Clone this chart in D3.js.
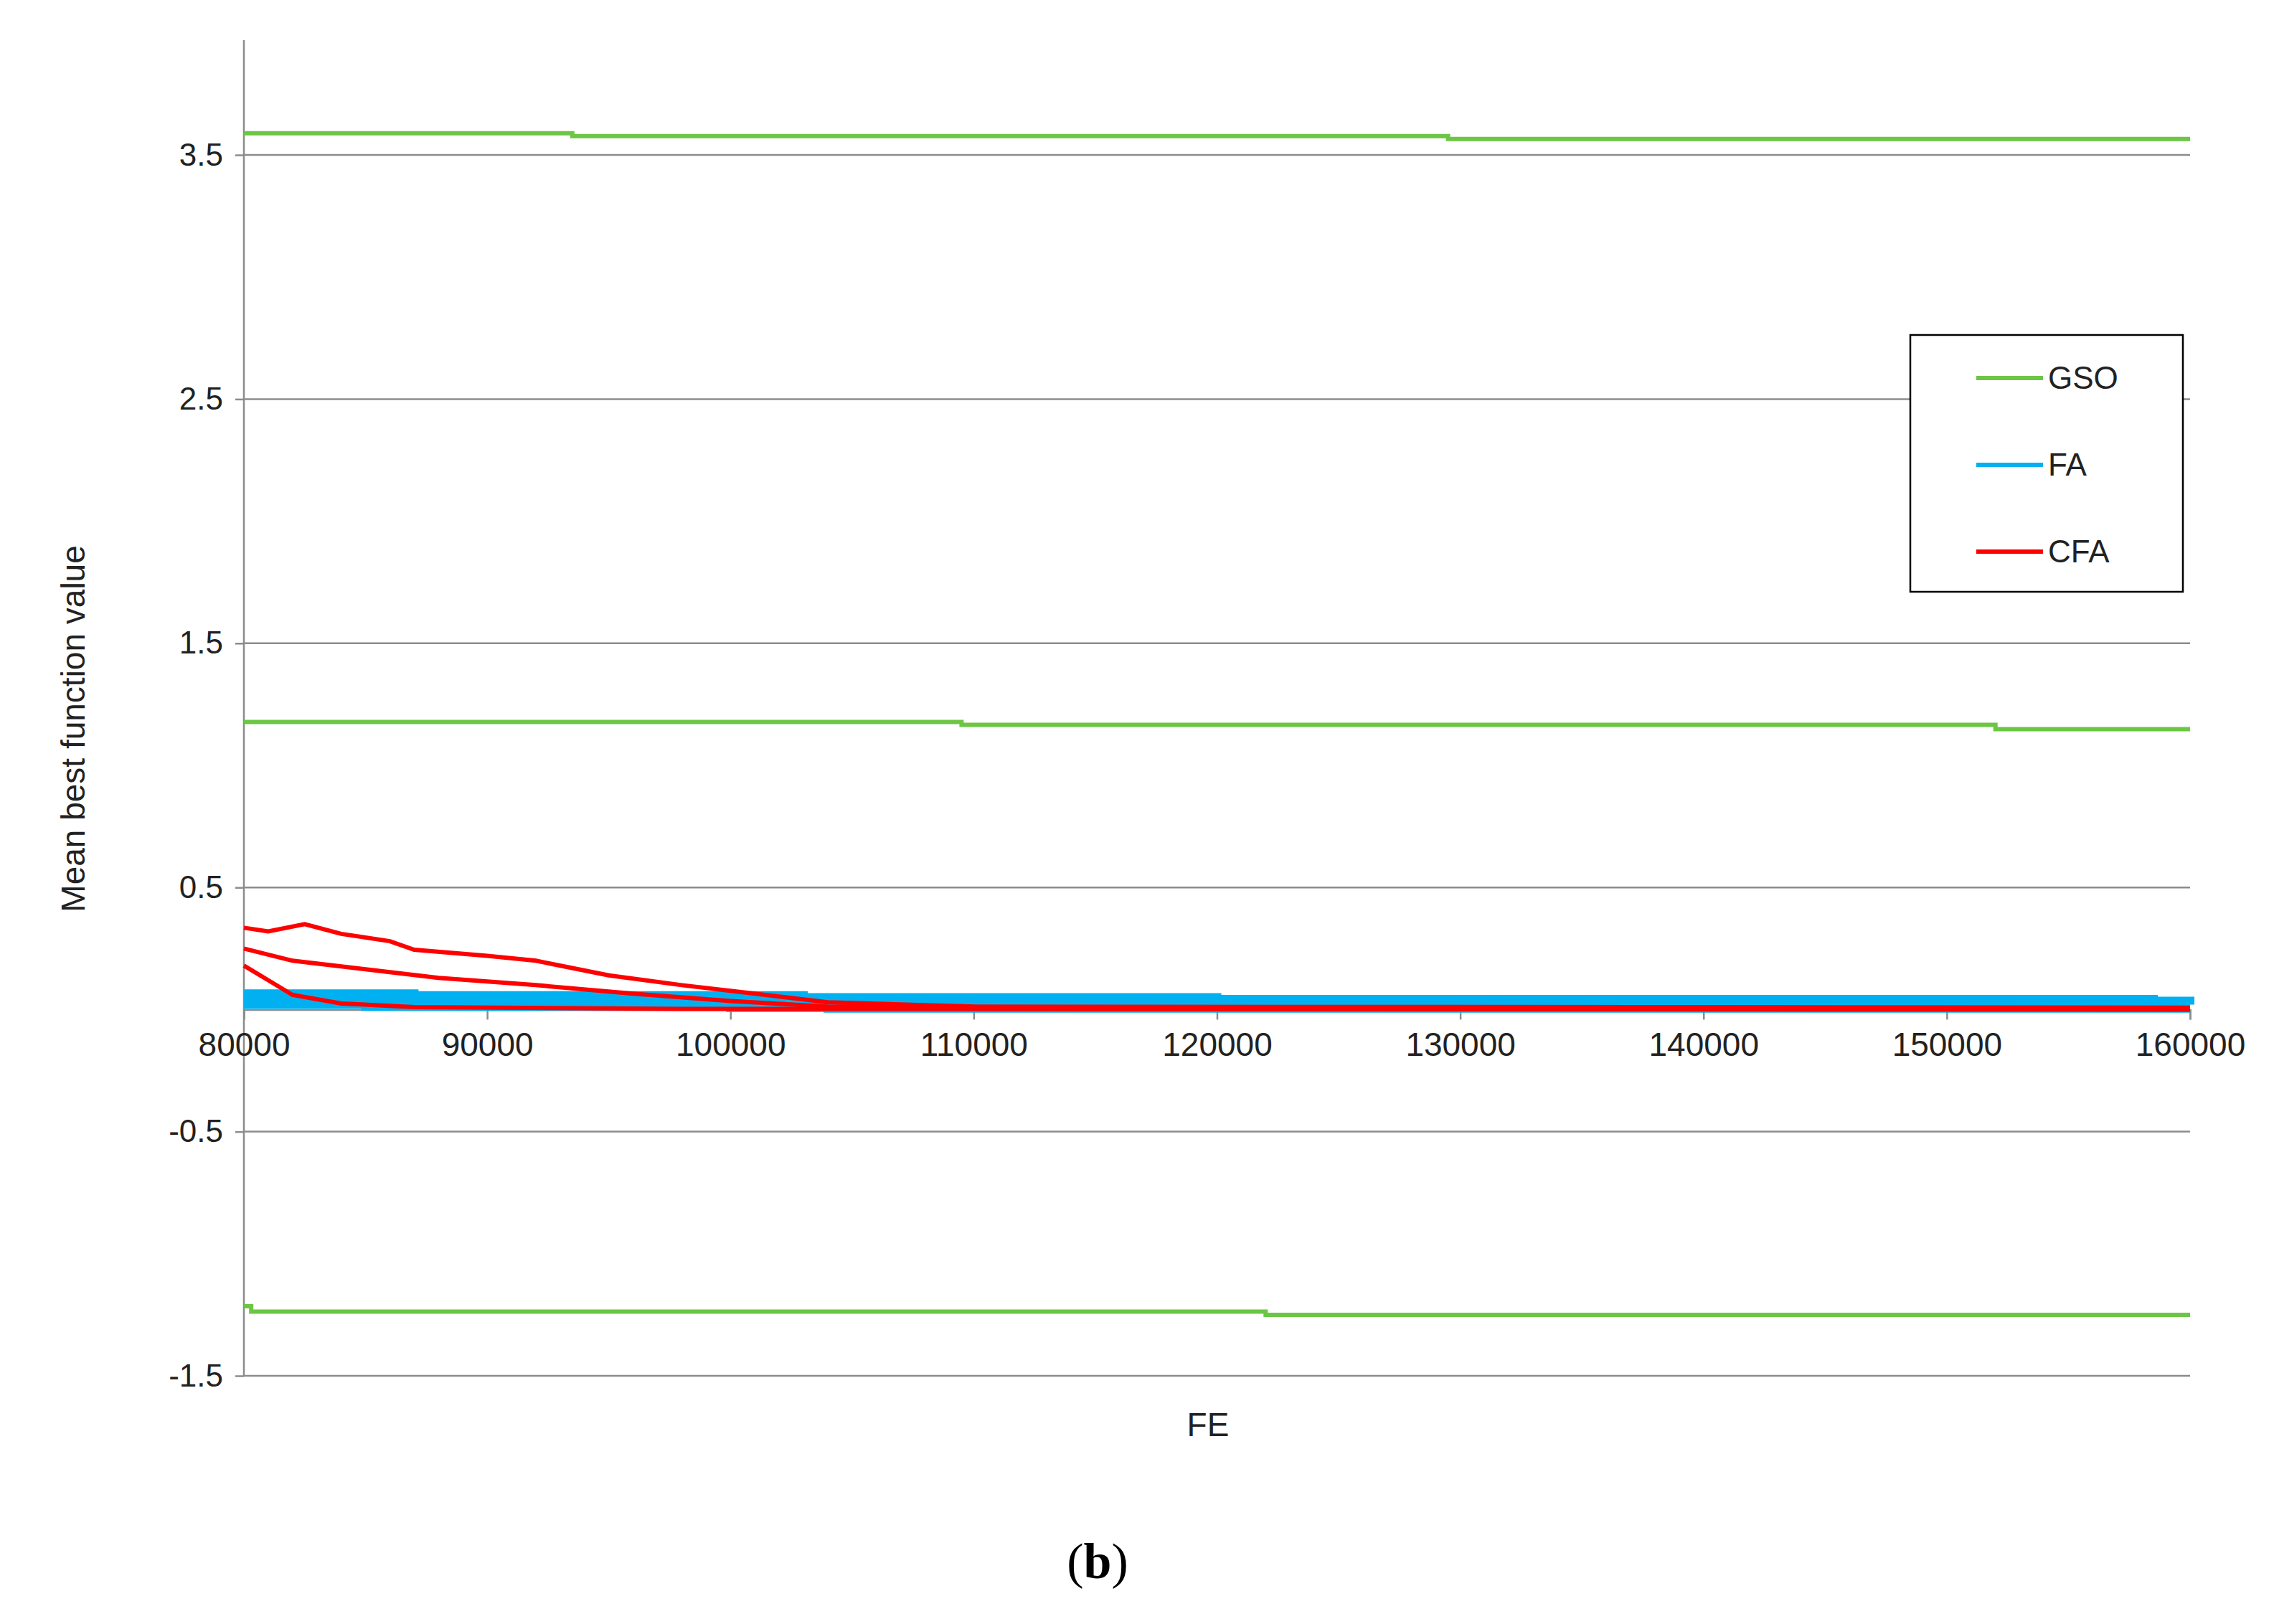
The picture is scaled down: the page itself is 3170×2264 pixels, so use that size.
<!DOCTYPE html>
<html><head><meta charset="utf-8">
<script src="https://cdn.jsdelivr.net/npm/d3@7"></script>
<style>body{margin:0;background:#fff}text{font-family:"Liberation Sans",Arial,sans-serif}</style>
</head><body><svg id="chart"></svg>
<script>
const xTicks = [80000, 90000, 100000, 110000, 120000, 130000, 140000, 150000, 160000];
const yTicks = [-1.5, -0.5, 0.5, 1.5, 2.5, 3.5];
const seriesNames = ["GSO", "FA", "CFA"];
const seriesColors = ["#6cc644", "#00b0f0", "#ff0000"];

// each run: [FE, value] points
const gsoRuns = [
  [[80000, 3.589], [93500, 3.577], [129500, 3.565], [160000, 3.565]],
  [[80000, 1.178], [109500, 1.166], [152000, 1.148], [160000, 1.148]],
  [[80000, -1.215], [80300, -1.237], [122000, -1.25], [160000, -1.25]]
];
const faRuns = [
  [[80000, 0.065], [87000, 0.058], [103000, 0.05], [120000, 0.042], [158500, 0.035], [160000, 0.03]],
  [[80000, 0.045], [91000, 0.04], [100000, 0.03], [108000, 0.025], [160000, 0.02]],
  [[80000, 0.02], [85000, 0.012], [100000, 0.008], [104000, 0.005], [160000, 0.005]]
];
const cfaRuns = [
  [[80000, 0.335], [81000, 0.32], [82500, 0.35], [84000, 0.31], [86000, 0.28], [87000, 0.245], [90000, 0.22], [92000, 0.2],
   [95000, 0.14], [98000, 0.1], [101000, 0.065], [104000, 0.03], [110000, 0.012], [160000, 0.008]],
  [[80000, 0.25], [82000, 0.2], [85000, 0.165], [88000, 0.13], [92000, 0.1], [96000, 0.065], [100000, 0.035], [104000, 0.012], [160000, 0.002]],
  [[80000, 0.18], [81000, 0.12], [82000, 0.06], [84000, 0.025], [87000, 0.01], [98000, 0.003], [160000, 0.0]]
];

const W = 3170, H = 2264;
const svg = d3.select("#chart").attr("width", W).attr("height", H);
const left = 340, right = 3053;

const x = d3.scaleLinear().domain([80000, 160000]).range([left, right]);
const y = d3.scaleLinear().domain([-1.5, 3.5]).range([1918, 216]);

// gridlines
svg.append("g").selectAll("line").data(yTicks).join("line")
  .attr("x1", left).attr("x2", right)
  .attr("y1", d => y(d)).attr("y2", d => y(d))
  .attr("stroke", "#8c8c8c").attr("stroke-width", 2.5);

// y axis line
svg.append("line").attr("x1", left).attr("x2", left)
  .attr("y1", y(3.97)).attr("y2", y(-1.5))
  .attr("stroke", "#8c8c8c").attr("stroke-width", 2.5);

const yAxis = svg.append("g").attr("transform", `translate(${left},0)`)
  .call(d3.axisLeft(y).tickValues(yTicks).tickSize(12).tickFormat(d => String(d)));
yAxis.select(".domain").remove();
yAxis.selectAll("line").attr("stroke", "#8c8c8c").attr("stroke-width", 2.5);
yAxis.selectAll("text").attr("font-size", 44).attr("fill", "#222").attr("dx", -14);

// x axis at y=0
const xAxis = svg.append("g").attr("transform", `translate(0,${y(0)})`)
  .call(d3.axisBottom(x).tickValues(xTicks).tickSize(14).tickFormat(d3.format("d")));
xAxis.select(".domain").attr("stroke", "#8c8c8c").attr("stroke-width", 2.5);
xAxis.selectAll("line").attr("stroke", "#8c8c8c").attr("stroke-width", 2.5);
xAxis.selectAll("text").attr("font-size", 46).attr("fill", "#222").attr("dy", 48);

const step = d3.line().x(d => x(d[0])).y(d => y(d[1])).curve(d3.curveStepAfter);
const smooth = d3.line().x(d => x(d[0])).y(d => y(d[1]));
svg.append("g").selectAll("path").data(gsoRuns).join("path")
  .attr("d", step).attr("fill", "none")
  .attr("stroke", seriesColors[0]).attr("stroke-width", 6);
svg.append("g").selectAll("path").data(faRuns).join("path")
  .attr("d", step).attr("fill", "none")
  .attr("stroke", seriesColors[1]).attr("stroke-width", 12);
svg.append("g").selectAll("path").data(cfaRuns).join("path")
  .attr("d", smooth).attr("fill", "none")
  .attr("stroke", seriesColors[2]).attr("stroke-width", 6);

// axis titles
svg.append("text").attr("x", 1684).attr("y", 2002).attr("text-anchor", "middle")
  .attr("font-size", 46).attr("fill", "#222").text("FE");
svg.append("text").attr("transform", `translate(118,${y(1.15)}) rotate(-90)`)
  .attr("text-anchor", "middle").attr("font-size", 46).attr("fill", "#222")
  .text("Mean best function value");

// legend
const lg = svg.append("g").attr("transform", "translate(2663,467)");
lg.append("rect").attr("width", 380).attr("height", 358)
  .attr("fill", "#fff").attr("stroke", "#000").attr("stroke-width", 2.5);
seriesNames.forEach((n, i) => {
  const yy = 60 + i * 121;
  lg.append("line").attr("x1", 92).attr("x2", 185).attr("y1", yy).attr("y2", yy)
    .attr("stroke", seriesColors[i]).attr("stroke-width", 6);
  lg.append("text").attr("x", 192).attr("y", yy + 15).attr("font-size", 44)
    .attr("fill", "#222").text(n);
});

// panel label
svg.append("text").attr("x", 1530).attr("y", 2200).attr("text-anchor", "middle")
  .style("font-family", "'Liberation Serif', serif").attr("font-size", 70).attr("fill", "#000")
  .html('(<tspan font-weight="bold">b</tspan>)');
</script></body></html>
